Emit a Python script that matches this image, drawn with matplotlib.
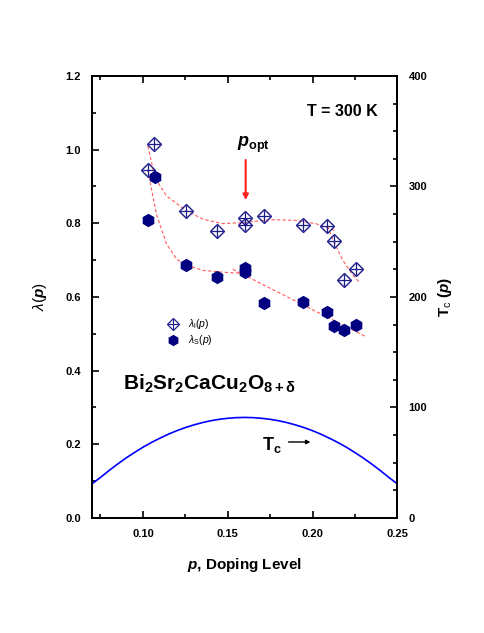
import numpy as np
import matplotlib.pyplot as plt
from matplotlib.ticker import MultipleLocator

plt.rcParams['font.family'] = ['Liberation Sans', 'DejaVu Sans']
plt.rcParams['mathtext.fontset'] = 'custom'
plt.rcParams['mathtext.rm'] = 'Liberation Sans'
plt.rcParams['mathtext.it'] = 'Liberation Sans:italic'
plt.rcParams['mathtext.bf'] = 'Liberation Sans:bold'
plt.rcParams['mathtext.bfit'] = 'Liberation Sans:bold:italic'

# lambda_l(p), open diamonds
p_l = [0.1067, 0.1031, 0.1253, 0.1439, 0.1600, 0.1600, 0.1714, 0.1943, 0.2088, 0.2128, 0.2257, 0.2188]
lam_l = [1.015, 0.945, 0.834, 0.779, 0.815, 0.796, 0.821, 0.795, 0.792, 0.752, 0.677, 0.645]

# lambda_s(p), filled hexagons
p_s = [0.1069, 0.1029, 0.1253, 0.1439, 0.1600, 0.1600, 0.1714, 0.1943, 0.2088, 0.2128, 0.2188, 0.2259]
lam_s = [0.926, 0.808, 0.687, 0.654, 0.680, 0.669, 0.583, 0.585, 0.558, 0.522, 0.510, 0.524]

# dashed guide lines
fit_l1_p = [0.103, 0.107, 0.114, 0.1253, 0.1355, 0.147, 0.160, 0.1747, 0.190, 0.202, 0.214]
fit_l1_v = [1.010, 0.924, 0.874, 0.835, 0.811, 0.799, 0.802, 0.810, 0.808, 0.799, 0.779]
fit_l2_p = [0.2087, 0.212, 0.2178, 0.2237, 0.2272]
fit_l2_v = [0.793, 0.757, 0.700, 0.660, 0.642]
fit_s1_p = [0.103, 0.108, 0.114, 0.120, 0.1253, 0.1355, 0.151, 0.160]
fit_s1_v = [0.942, 0.824, 0.743, 0.702, 0.687, 0.672, 0.666, 0.664]
fit_s2_p = [0.153, 0.232]
fit_s2_v = [0.675, 0.491]

# Tc(p) curve, right axis
p_tc = [0.070, 0.075, 0.080, 0.085, 0.090, 0.095, 0.100, 0.105, 0.110, 0.115,
        0.120, 0.125, 0.130, 0.135, 0.140, 0.145, 0.150, 0.155, 0.160,
        0.165, 0.170, 0.175, 0.180, 0.185, 0.190, 0.195, 0.200, 0.205,
        0.210, 0.215, 0.220, 0.225, 0.230, 0.235, 0.240, 0.245, 0.250]
tc = [30.9, 36.7, 42.9, 48.7, 54.2, 59.2, 64.0, 68.3, 72.2, 75.8,
      79.0, 81.8, 84.2, 86.3, 88.0, 89.3, 90.2, 90.8, 91.0,
      90.8, 90.2, 89.3, 88.0, 86.3, 84.2, 81.8, 79.0, 75.8,
      72.2, 68.3, 64.0, 59.2, 54.2, 48.7, 42.9, 36.7, 30.9]

fig = plt.figure(figsize=(4.85, 6.33), dpi=100)
ax = fig.add_axes([0.1897, 0.1817, 0.6295, 0.6983])
ax2 = ax.twinx()

navy = '#1c1c8c'
red = '#ff5a5a'

ax.plot(fit_l1_p, fit_l1_v, ls=(0, (3, 2)), color=red, lw=0.8, zorder=2)
ax.plot(fit_l2_p, fit_l2_v, ls=(0, (3, 2)), color=red, lw=0.8, zorder=2)
ax.plot(fit_s1_p, fit_s1_v, ls=(0, (3, 2)), color=red, lw=0.8, zorder=2)
ax.plot(fit_s2_p, fit_s2_v, ls=(0, (3, 2)), color=red, lw=0.8, zorder=2)

ax.plot(p_l, lam_l, 'D', ms=7, mfc='none', mec=navy, mew=1.0, zorder=3)
ax.plot(p_l, lam_l, '+', ms=8, mec=navy, mew=0.9, zorder=3)
ax.plot(p_s, lam_s, 'h', ms=8.5, color='#000080', zorder=3)

ax2.plot(p_tc, tc, color='#0000ff', lw=1.2)

ax.set_xlim(0.07, 0.25)
ax.set_ylim(0, 1.2)
ax2.set_ylim(0, 400)

ax.xaxis.set_major_locator(MultipleLocator(0.05))
ax.xaxis.set_minor_locator(MultipleLocator(0.025))
ax.yaxis.set_major_locator(MultipleLocator(0.2))
ax.yaxis.set_minor_locator(MultipleLocator(0.1))
ax2.yaxis.set_major_locator(MultipleLocator(100))
ax2.yaxis.set_minor_locator(MultipleLocator(25))
ax.xaxis.set_major_formatter(plt.FuncFormatter(lambda v, _: '' if v < 0.09 else f'{v:.2f}'))
ax.yaxis.set_major_formatter(plt.FuncFormatter(lambda v, _: f'{v:.1f}'))

ax.tick_params(which='both', direction='in', top=True, right=False, width=1.2,
               labelsize=8)
ax.tick_params(which='major', length=5, pad=8)
ax.tick_params(which='minor', length=3)
ax2.tick_params(which='both', direction='in', width=1.2, labelsize=8)
ax2.tick_params(which='major', length=5, pad=8)
ax2.tick_params(which='minor', length=3)
for lab in ax.get_xticklabels() + ax.get_yticklabels() + ax2.get_yticklabels():
    lab.set_fontweight('bold')
for a in (ax, ax2):
    for s in a.spines.values():
        s.set_linewidth(1.4)

ax.set_xlabel(r'$\mathbfit{p}$, Doping Level', fontsize=11, fontweight='bold', labelpad=12)
ax.set_ylabel(r'$\lambda(\mathbfit{p})$', fontsize=11, labelpad=12)
ax2.set_ylabel(r'T$_\mathrm{c}$ ($\mathbfit{p}$)', fontsize=11, fontweight='bold', labelpad=6)

ax.text(0.2382, 1.0915, 'T = 300 K', fontsize=11.5, fontweight='bold', ha='right', va='baseline')
ax.text(0.1553, 1.008, r'$\mathbfit{p}_{\mathbf{opt}}$', fontsize=13, ha='left', va='baseline')
ax.annotate('', xy=(0.1606, 0.863), xytext=(0.1606, 0.972),
            arrowprops=dict(arrowstyle='-|>', color='#ff2020', lw=1.5,
                            mutation_scale=8, shrinkA=0, shrinkB=0))

# legend
ax.plot([0.1178], [0.527], 'D', ms=6, mfc='none', mec=navy, mew=0.9)
ax.plot([0.1178], [0.527], '+', ms=7, mec=navy, mew=0.8)
ax.plot([0.1178], [0.483], 'h', ms=7, color='#000080')
ax.text(0.1265, 0.527, r'$\lambda_\mathrm{l}(p)$', fontsize=7.5, va='center')
ax.text(0.1265, 0.483, r'$\lambda_\mathrm{S}(p)$', fontsize=7.5, va='center')

ax.text(0.088, 0.3475, r'$\mathbf{Bi_2Sr_2CaCu_2O_{8+\delta}}$', fontsize=15, va='baseline')

ax.text(0.17, 0.1846, r'$\mathbf{T_c}$', fontsize=13, va='baseline')
ax.annotate('', xy=(0.1988, 0.2063), xytext=(0.1859, 0.2063),
            arrowprops=dict(arrowstyle='-|>', color='black', lw=1.0,
                            mutation_scale=6, shrinkA=0, shrinkB=0))

fig.savefig('out.png', dpi=100)
